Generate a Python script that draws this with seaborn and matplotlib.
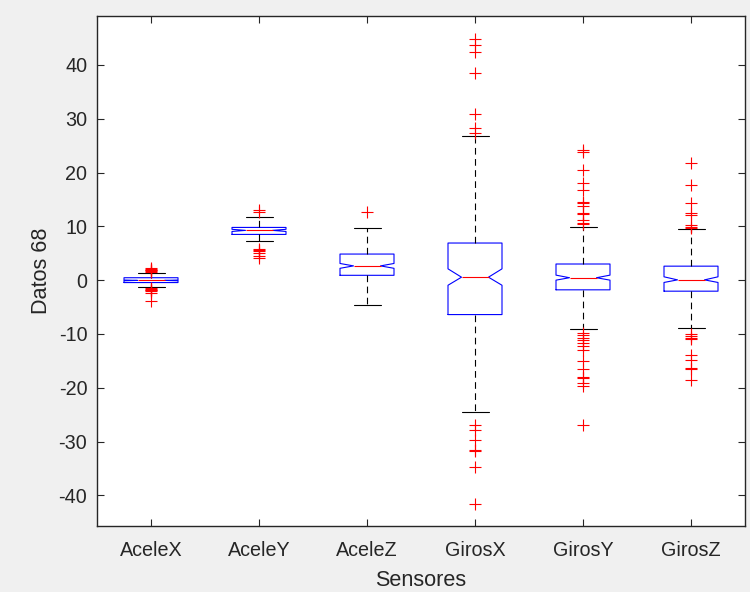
import matplotlib
matplotlib.use("Agg")
import matplotlib.pyplot as plt
import seaborn as sns

# ---- data ----
sensors = ["AceleX", "AceleY", "AceleZ", "GirosX", "GirosY", "GirosZ"]
q1 = [-0.45, 8.5, 0.9, -6.4, -1.8, -2.05]
median = [-0.05, 9.25, 2.65, 0.55, 0.45, 0.05]
q3 = [0.45, 9.8, 4.85, 6.9, 3.0, 2.6]
notch_lo = [-0.12, 9.05, 2.2, -0.95, 0.0, -0.43]
notch_hi = [0.02, 9.45, 3.1, 2.1, 0.93, 0.62]
whisker_lo = [-1.3, 7.3, -4.65, -24.6, -9.05, -8.9]
whisker_hi = [1.35, 11.7, 9.6, 26.85, 9.85, 9.5]

out_acelex = [2.2, 2.0, 1.9, 1.8, 1.7, 1.6, -1.5, -1.6, -1.8, -1.9, -2.1, -2.3, -3.8]
out_aceley = [13.0, 12.6, 5.8, 5.6, 5.4, 5.0, 4.5, 4.1]
out_acelez = [12.6]
out_girosx = [44.8, 43.7, 42.4, 38.5, 30.8, 28.2, 27.3,
              -27.0, -27.9, -29.8, -31.5, -31.7, -34.7, -41.6]
out_girosy = [24.1, 23.9, 20.4, 18.0, 16.7, 14.6, 14.4, 13.8, 12.5, 12.3, 11.1, 10.7, 10.4,
              -9.8, -10.2, -10.7, -11.1, -11.7, -12.3, -12.9, -15.0, -16.6, -18.0, -18.2,
              -19.2, -19.7, -27.0]
out_girosz = [21.7, 17.7, 14.3, 12.5, 12.1, 10.2, 9.9, 9.7,
              -10.0, -10.4, -10.7, -11.0, -14.0, -14.8, -16.4, -16.6, -18.6]
outliers = [out_acelex, out_aceley, out_acelez, out_girosx, out_girosy, out_girosz]

y_ticks = [-40, -30, -20, -10, 0, 10, 20, 30, 40]

# ---- style ----
sns.set_style("ticks")
plt.rcParams['font.family'] = ['Liberation Sans', 'DejaVu Sans']

fig = plt.figure(figsize=(7.5, 5.92), dpi=100)
fig.patch.set_facecolor('#f0f0f0')
ax = fig.add_axes([97 / 750, 66 / 592, 648 / 750, 510 / 592])
ax.set_facecolor('white')

stats = []
for i, name in enumerate(sensors):
    stats.append(dict(label=name, med=median[i], q1=q1[i], q3=q3[i],
                      cilo=notch_lo[i], cihi=notch_hi[i],
                      whislo=whisker_lo[i], whishi=whisker_hi[i],
                      fliers=outliers[i]))

positions = list(range(1, len(sensors) + 1))
ax.bxp(stats, positions=positions, widths=0.5, shownotches=True,
       boxprops=dict(color='#0000ff', linewidth=0.8),
       medianprops=dict(color='#ff0000', linewidth=0.8),
       whiskerprops=dict(color='black', linewidth=0.8, linestyle=(0, (6, 4))),
       capprops=dict(color='black', linewidth=0.8),
       flierprops=dict(marker='+', markeredgecolor='#ff0000', markersize=9,
                       markeredgewidth=0.8, linestyle='none'))

ax.set_xlim(0.5, 6.5)
ax.set_ylim(-45.7, 49.1)
ax.set_yticks(y_ticks)
ax.set_yticklabels([str(t) for t in y_ticks])
ax.set_xticks(positions)
ax.set_xticklabels(sensors)

txt = '#262626'
ax.tick_params(axis='both', direction='in', length=5, width=0.8, colors=txt,
               labelsize=14.2, top=True, right=True)
ax.tick_params(axis='x', pad=10.5)
ax.tick_params(axis='y', pad=7)
for s in ax.spines.values():
    s.set_color(txt)
    s.set_linewidth(1.0)
    s.set_visible(True)

ax.set_xlabel('Sensores', fontsize=15.6, color=txt, labelpad=7.5)
ax.set_ylabel('Datos 68', fontsize=15.6, color=txt, labelpad=5)

fig.savefig('out.png', dpi=100, facecolor=fig.get_facecolor())
